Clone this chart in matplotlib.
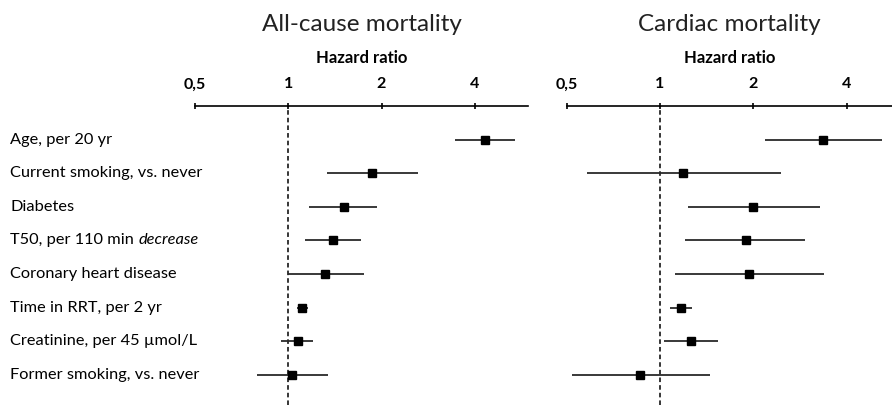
import matplotlib.pyplot as plt
from matplotlib.transforms import blended_transform_factory

plt.rcParams['font.family'] = ['Lato', 'DejaVu Sans']

labels = [
    "Age, per 20 yr",
    "Current smoking, vs. never",
    "Diabetes",
    "T50, per 110 min ",
    "Coronary heart disease",
    "Time in RRT, per 2 yr",
    "Creatinine, per 45 µmol/L",
    "Former smoking, vs. never",
]

# all-cause mortality: hazard ratio with 95% CI
all_hr = [4.31, 1.87, 1.51, 1.39, 1.31, 1.11, 1.075, 1.03]
all_lo = [3.46, 1.33, 1.17, 1.13, 1.00, 1.07, 0.95, 0.79]
all_hi = [5.38, 2.63, 1.93, 1.72, 1.76, 1.16, 1.20, 1.34]

# cardiac mortality
card_hr = [3.36, 1.19, 2.00, 1.89, 1.94, 1.17, 1.26, 0.86]
card_lo = [2.18, 0.58, 1.23, 1.20, 1.12, 1.08, 1.03, 0.52]
card_hi = [5.19, 2.45, 3.27, 2.94, 3.37, 1.27, 1.54, 1.45]

ticks = [0.5, 1, 2, 4]
tick_labels = ["0,5", "1", "2", "4"]

fig = plt.figure(figsize=(8.92, 4.05), dpi=100)
ax1 = fig.add_axes([0.2186, 0.0, 0.3733, 0.7383])
ax2 = fig.add_axes([0.6353, 0.0, 0.3647, 0.7383])


def forest(ax, hr, lo, hi, xmax, title):
    rows = range(len(hr))
    ax.set_xscale("log")
    ax.hlines(rows, lo, hi, color="#2a2a2a", lw=1.3, zorder=2)
    ax.plot(hr, rows, "s", color="black", ms=6, zorder=3)
    ax.axvline(1, color="black", lw=1.1, ls=(0, (3, 2)), zorder=1)
    ax.set_xlim(0.5, xmax)
    ax.set_ylim(7.9, -1)
    for s in ["left", "right", "bottom"]:
        ax.spines[s].set_visible(False)
    ax.spines["top"].set_linewidth(1.2)
    ax.xaxis.set_ticks_position("top")
    ax.set_xticks(ticks)
    ax.set_xticklabels(tick_labels, fontweight="bold", fontsize=11.5)
    ax.minorticks_off()
    ax.tick_params(axis="x", direction="inout", length=5, width=1.2, pad=8)
    ax.set_yticks([])
    # axes is 299 px tall, top edge at 106 px from the top of the figure
    ax.text(0.5, 1 + (106 - 58) / 299, "Hazard ratio", transform=ax.transAxes,
            fontweight="bold", fontsize=12, ha="center", va="center")
    ax.text(0.5, 1 + (106 - 25) / 299, title, transform=ax.transAxes,
            fontsize=17.5, ha="center", va="center", color="#222222")


forest(ax1, all_hr, all_lo, all_hi, 5.94, "All-cause mortality")
forest(ax2, card_hr, card_lo, card_hi, 5.6, "Cardiac mortality")

tr = blended_transform_factory(fig.transFigure, ax1.transData)
for i, lab in enumerate(labels):
    t = ax1.text(10 / 892, i, lab, transform=tr, fontsize=11.8,
                 ha="left", va="center", clip_on=False)
    if i == 3:
        ax1.annotate("decrease", xy=(1, 0.5), xycoords=t, fontsize=11.8,
                     style="italic", ha="left", va="center")

fig.savefig("out.png", dpi=100)
